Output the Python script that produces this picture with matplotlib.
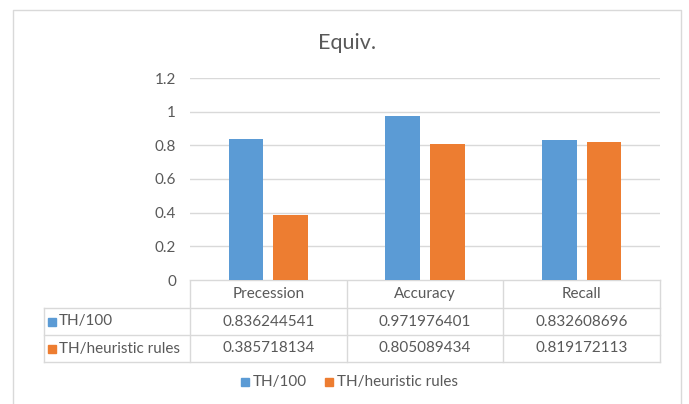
import matplotlib.pyplot as plt
import numpy as np

plt.rcParams['font.family'] = ['Lato', 'DejaVu Sans']

categories = ["Precession", "Accuracy", "Recall"]
series_names = ["TH/100", "TH/heuristic rules"]
th_100 = [0.836244541, 0.971976401, 0.832608696]
th_heuristic = [0.385718134, 0.805089434, 0.819172113]
y_ticks = [0, 0.2, 0.4, 0.6, 0.8, 1, 1.2]
colors = ["#5B9BD5", "#ED7D31"]

W, H = 689, 404
fig = plt.figure(figsize=(W / 100, H / 100), dpi=100)
txt = "#595959"
grid = "#D9D9D9"

# canvas in pixel units for border, title, table and legend
canvas = fig.add_axes([0, 0, 1, 1])
canvas.set_xlim(0, W)
canvas.set_ylim(H, 0)
canvas.axis("off")
canvas.plot([13, 13, 681, 681], [H + 5, 10, 10, H + 5], color="#D9D9D9", lw=1)
canvas.text(347, 43, "Equiv.", ha="center", va="center", fontsize=15.5, color=txt)

# plot area
x0, x1, y_top, y_zero = 190, 660, 78, 280
ax = fig.add_axes([x0 / W, 1 - y_zero / H, (x1 - x0) / W, (y_zero - y_top) / H])
x = np.arange(len(categories))
bw, off = 0.222, 0.142
ax.bar(x - off, th_100, bw, color=colors[0], zorder=3)
ax.bar(x + off, th_heuristic, bw, color=colors[1], zorder=3)
ax.set_xlim(-0.5, len(categories) - 0.5)
ax.set_ylim(0, 1.2)
ax.set_yticks(y_ticks)
ax.set_yticklabels([f"{t:g}" for t in y_ticks])
ax.tick_params(axis="y", length=0, labelsize=11, labelcolor=txt, pad=10)
ax.set_xticks([])
ax.grid(axis="y", color=grid, lw=1, zorder=0)
for s in ax.spines.values():
    s.set_visible(False)

# data table under the axis
col_edges = np.linspace(x0, x1, len(categories) + 1)
row_edges = [280, 308, 335, 362]
left = 44
lc = "#D9D9D9"
for xe in col_edges:
    canvas.plot([xe, xe], [row_edges[0], row_edges[-1]], color=lc, lw=1)
canvas.plot([left, left], [row_edges[1], row_edges[-1]], color=lc, lw=1)
canvas.plot([x0, x1], [row_edges[0], row_edges[0]], color=lc, lw=1)
for ye in row_edges[1:]:
    canvas.plot([left, x1], [ye, ye], color=lc, lw=1)

for i, cat in enumerate(categories):
    cx = (col_edges[i] + col_edges[i + 1]) / 2
    canvas.text(cx, (row_edges[0] + row_edges[1]) / 2, cat, ha="center", va="center",
                fontsize=11, color=txt)
    for r, vals in enumerate([th_100, th_heuristic]):
        canvas.text(cx, (row_edges[r + 1] + row_edges[r + 2]) / 2, f"{vals[i]:.9f}",
                    ha="center", va="center", fontsize=11, color=txt)

for r, name in enumerate(series_names):
    cy = (row_edges[r + 1] + row_edges[r + 2]) / 2
    canvas.add_patch(plt.Rectangle((48, cy - 4), 8, 8, color=colors[r]))
    canvas.text(59, cy, name, ha="left", va="center", fontsize=11, color=txt)

# legend
leg_x = [241, 325]
for name, c, lx in zip(series_names, colors, leg_x):
    canvas.add_patch(plt.Rectangle((lx, 378), 8, 8, color=c))
    canvas.text(lx + 12, 382, name, ha="left", va="center", fontsize=11, color=txt)

fig.savefig("out.png", dpi=100, facecolor="white")
